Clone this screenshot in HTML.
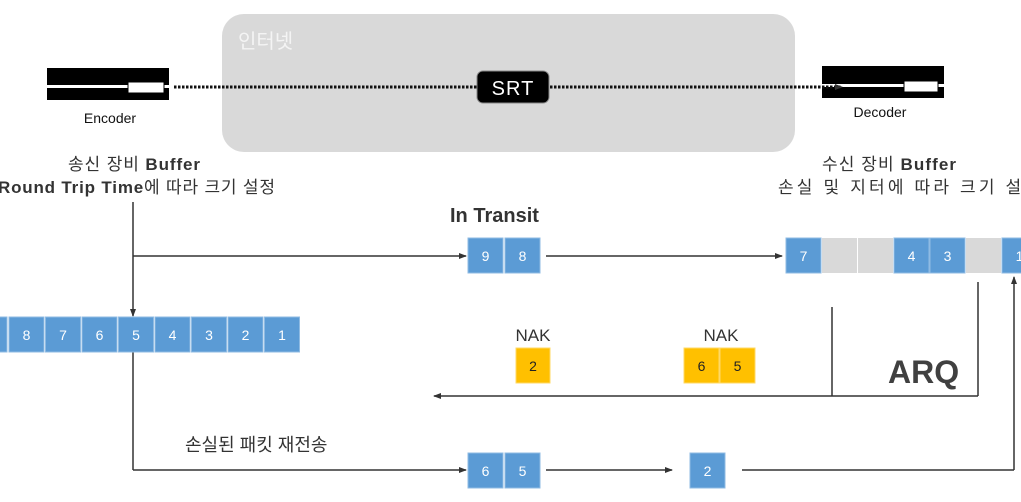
<!DOCTYPE html>
<html><head><meta charset="utf-8"><style>
body{margin:0;width:1021px;height:497px;overflow:hidden;background:#fff;font-family:"Liberation Sans","Noto Sans CJK KR",sans-serif;}
</style></head><body>
<svg width="1021" height="497" viewBox="0 0 1021 497" xmlns="http://www.w3.org/2000/svg" font-family="Liberation Sans, Noto Sans CJK KR, sans-serif">
<defs>
<marker id="a" markerWidth="8" markerHeight="8" refX="7" refY="4" orient="auto" markerUnits="userSpaceOnUse"><path d="M0,1 L8,4 L0,7 Z" fill="#333"/></marker>
</defs>
<rect x="222" y="14" width="573" height="138" rx="22" fill="#d9d9d9"/>
<text x="238" y="48" font-size="20" fill="#f4f4f4">인터넷</text>
<rect x="47" y="68" width="122" height="17" fill="#000"/>
<rect x="47" y="88" width="122" height="12" fill="#000"/>
<rect x="128" y="82" width="36" height="11" fill="#fff" stroke="#000" stroke-width="1"/>
<text x="110" y="123" font-size="14" text-anchor="middle" fill="#111">Encoder</text>
<rect x="822" y="66" width="122" height="18" fill="#000"/>
<rect x="822" y="87" width="122" height="11" fill="#000"/>
<rect x="904" y="81" width="34" height="11" fill="#fff" stroke="#000" stroke-width="1"/>
<text x="880" y="117" font-size="14" text-anchor="middle" fill="#111">Decoder</text>
<line x1="174" y1="87" x2="842" y2="87" stroke="#111" stroke-width="3" stroke-dasharray="2.5,1.5" marker-end="url(#a)"/>
<rect x="477" y="71" width="72" height="32" rx="6" fill="#000" stroke="#888" stroke-width="1"/>
<text x="513" y="95" font-size="20" fill="#fff" text-anchor="middle" letter-spacing="1">SRT</text>
<text x="68" y="170" font-size="17" fill="#333" textLength="132" lengthAdjust="spacing">송신 장비 <tspan font-weight="bold">Buffer</tspan></text>
<text x="-2" y="193" font-size="17" fill="#333" textLength="277" lengthAdjust="spacing"><tspan font-weight="bold">Round Trip Time</tspan>에 따라 크기 설정</text>
<text x="822" y="170" font-size="17" fill="#333" textLength="134" lengthAdjust="spacing">수신 장비 <tspan font-weight="bold">Buffer</tspan></text>
<text x="778" y="193" font-size="17" fill="#333" textLength="262" lengthAdjust="spacing">손실 및 지터에 따라 크기 설정</text>
<text x="450" y="222" font-size="20" font-weight="bold" fill="#333">In Transit</text>
<g stroke="#333" stroke-width="1.5" fill="none">
<line x1="133" y1="202" x2="133" y2="316" marker-end="url(#a)"/>
<line x1="133" y1="256" x2="466" y2="256" marker-end="url(#a)"/>
<line x1="546" y1="256" x2="782" y2="256" marker-end="url(#a)"/>
<line x1="133" y1="352" x2="133" y2="470"/>
<line x1="133" y1="470" x2="466" y2="470" marker-end="url(#a)"/>
<line x1="546" y1="470" x2="672" y2="470" marker-end="url(#a)"/>
<line x1="742" y1="470" x2="1014" y2="470"/>
<line x1="1014" y1="470" x2="1014" y2="277" marker-end="url(#a)"/>
<line x1="832" y1="307" x2="832" y2="396"/>
<line x1="978" y1="282" x2="978" y2="396"/>
<line x1="978" y1="396" x2="434" y2="396" marker-end="url(#a)"/>
</g>
<g font-size="14" fill="#fff" text-anchor="middle">
<g fill="#5b9bd5" stroke="#8fbbe3" stroke-width="1">
<rect x="-28" y="317" width="35" height="35"/>
<rect x="9" y="317" width="35" height="35"/><rect x="45.5" y="317" width="35" height="35"/><rect x="82" y="317" width="35" height="35"/><rect x="118.5" y="317" width="35" height="35"/><rect x="155" y="317" width="35" height="35"/><rect x="191.5" y="317" width="35" height="35"/><rect x="228" y="317" width="35" height="35"/><rect x="264.5" y="317" width="35" height="35"/>
<rect x="468" y="238" width="35" height="35"/><rect x="505" y="238" width="35" height="35"/>
<rect x="786" y="238" width="35" height="35"/><rect x="894" y="238" width="35" height="35"/><rect x="930" y="238" width="35" height="35"/><rect x="1002" y="238" width="35" height="35"/>
<rect x="468" y="453" width="35" height="35"/><rect x="505" y="453" width="35" height="35"/><rect x="690" y="453" width="35" height="35"/>
</g>
<g fill="#d9d9d9"><rect x="822" y="238" width="35" height="35"/><rect x="858" y="238" width="35" height="35"/><rect x="966" y="238" width="35" height="35"/></g>
<text x="26.5" y="340">8</text><text x="63" y="340">7</text><text x="99.5" y="340">6</text><text x="136" y="340">5</text><text x="172.5" y="340">4</text><text x="209" y="340">3</text><text x="245.5" y="340">2</text><text x="282" y="340">1</text>
<text x="485.5" y="261">9</text><text x="522.5" y="261">8</text>
<text x="803.5" y="261">7</text><text x="911.5" y="261">4</text><text x="947.5" y="261">3</text><text x="1019.5" y="261">1</text>
<text x="485.5" y="476">6</text><text x="522.5" y="476">5</text><text x="707.5" y="476">2</text>
</g>
<g fill="#ffc000" stroke="#ffd966" stroke-width="1">
<rect x="516" y="348" width="34" height="35"/><rect x="684" y="348" width="35" height="35"/><rect x="720" y="348" width="35" height="35"/>
</g>
<g font-size="14" fill="#222" text-anchor="middle">
<text x="533" y="371">2</text><text x="701.5" y="371">6</text><text x="737.5" y="371">5</text>
</g>
<g font-size="17" fill="#333" text-anchor="middle">
<text x="533" y="341">NAK</text><text x="721" y="341">NAK</text>
</g>
<text x="888" y="383" font-size="32" font-weight="bold" fill="#404040">ARQ</text>
<text x="185" y="451" font-size="18" fill="#333">손실된 패킷 재전송</text>
</svg>
</body></html>
